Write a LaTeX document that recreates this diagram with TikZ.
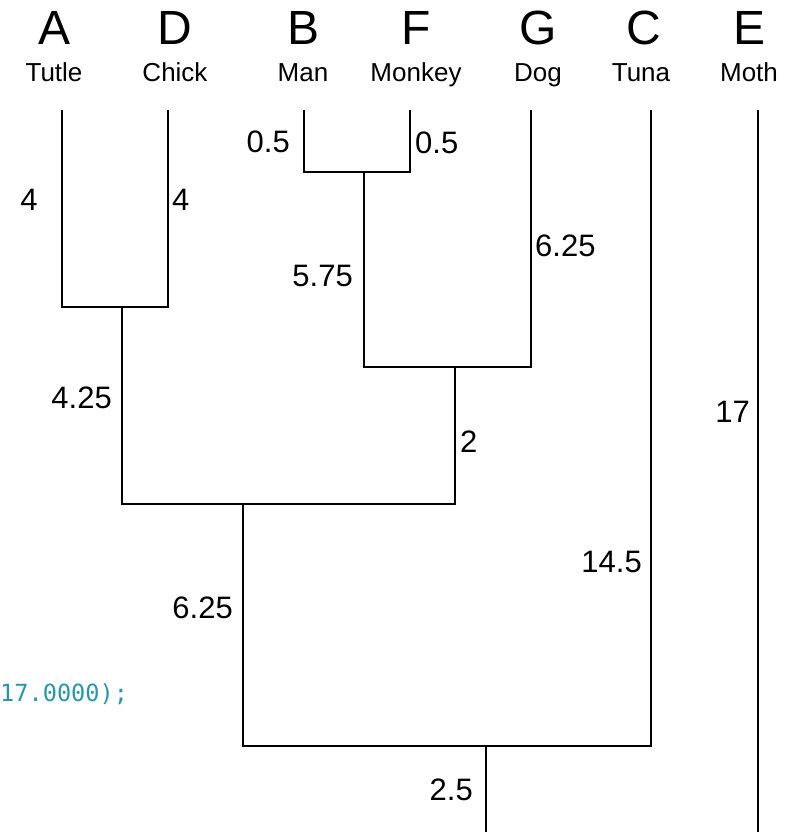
\documentclass[tikz,border=0pt]{standalone}
\usepackage{fontspec}
\setmainfont{Liberation Sans}
\newfontfamily\codefont{DejaVu Sans Mono}
\definecolor{codeteal}{RGB}{40,150,175}
\tikzset{
  branch/.style={line width=1.8pt, black},
  letter/.style={anchor=base, inner sep=0pt, font=\fontsize{48}{48}\selectfont},
  taxon/.style={anchor=base, inner sep=0pt, font=\fontsize{26}{26}\selectfont},
  blen/.style={inner sep=0pt, font=\fontsize{31}{31}\selectfont},
  codetext/.style={anchor=west, inner sep=0pt, text=codeteal, font=\codefont\fontsize{23.6}{23.6}\selectfont}
}
\begin{document}
\begin{tikzpicture}[x=1pt,y=-1pt]
\useasboundingbox (0,0) rectangle (793,832);
\fill[white] (0,0) rectangle (793,832);

% leaf letters and names
\node[letter] (LA) at (55,45) {A};
\node[letter] (LD) at (175,45) {D};
\node[letter] (LB) at (304,45) {B};
\node[letter] (LF) at (416,45) {F};
\node[letter] (LG) at (538,45) {G};
\node[letter] (LC) at (644,45) {C};
\node[letter] (LE) at (749,45) {E};

\node[taxon] (NA) at (54,82) {Tutle};
\node[taxon] (ND) at (175,82) {Chick};
\node[taxon] (NB) at (303,82) {Man};
\node[taxon] (NF) at (416,82) {Monkey};
\node[taxon] (NG) at (538,82) {Dog};
\node[taxon] (NC) at (641,82) {Tuna};
\node[taxon] (NE) at (749,82) {Moth};

% tree coordinates
\coordinate (tA) at (62,110);
\coordinate (tD) at (168,110);
\coordinate (tB) at (304,110);
\coordinate (tF) at (410,110);
\coordinate (tG) at (531,110);
\coordinate (tC) at (651,110);
\coordinate (tE) at (758,110);
\coordinate (nAD) at (122,307);
\coordinate (nBF) at (364,172);
\coordinate (nBFG) at (455,367);
\coordinate (nADBFG) at (243,504);
\coordinate (nR) at (486,746);
\coordinate (rEnd) at (486,832);
\coordinate (eEnd) at (758,832);

% branches
\draw[branch] (tA) |- (nAD) -| (tD);
\draw[branch] (tB) |- (nBF) -| (tF);
\draw[branch] (nBF) |- (nBFG) -| (tG);
\draw[branch] (nAD) |- (nADBFG) -| (nBFG);
\draw[branch] (nADBFG) |- (nR) -| (tC);
\draw[branch] (nR) -- (rEnd);
\draw[branch] (tE) -- (eEnd);

% branch lengths
\node[blen] (bA) at (29,200) {4};
\node[blen,anchor=west] (bD) at (172,200) {4};
\node[blen,anchor=east] (bB) at (290,142) {0.5};
\node[blen,anchor=west] (bF) at (415,143) {0.5};
\node[blen,anchor=east] (bBF) at (353,276) {5.75};
\node[blen,anchor=west] (bG) at (535,246) {6.25};
\node[blen,anchor=east] (bAD) at (112,398) {4.25};
\node[blen,anchor=west] (bBFG) at (460,442) {2};
\node[blen,anchor=east] (bE) at (750,412) {17};
\node[blen,anchor=east] (bC) at (642,562) {14.5};
\node[blen,anchor=east] (bADBFG) at (233,608) {6.25};
\node[blen,anchor=east] (bR) at (473,790) {2.5};

% stray code fragment
\node[codetext] (code) at (0,694) {17.0000);};
\end{tikzpicture}
\end{document}
